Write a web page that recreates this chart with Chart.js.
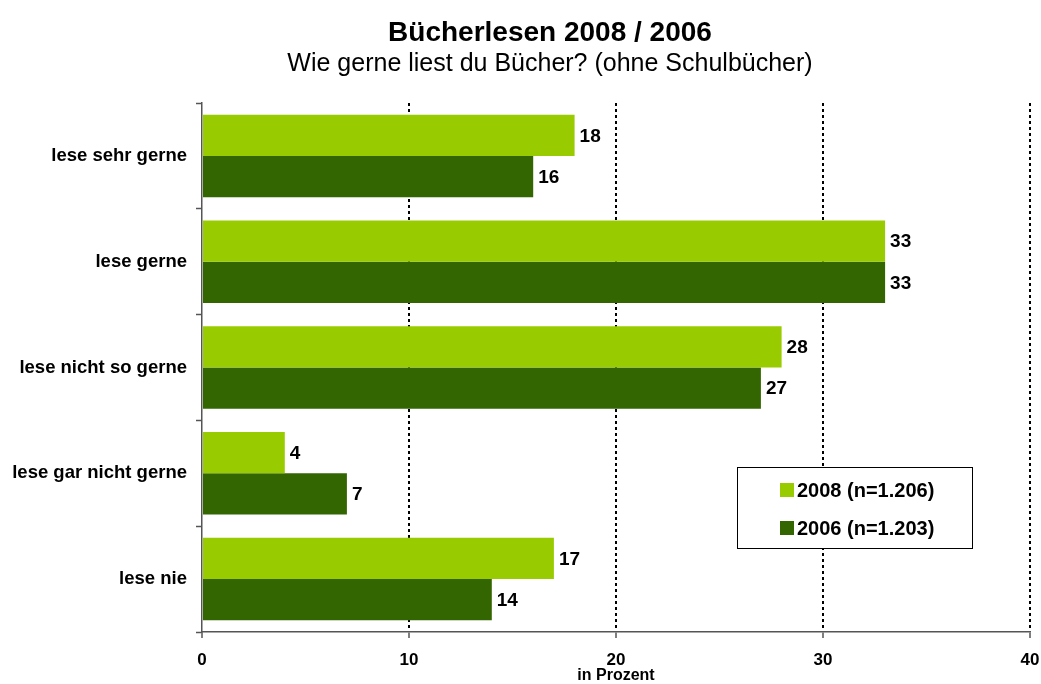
<!DOCTYPE html>
<html>
<head>
<meta charset="utf-8">
<script src="https://cdn.jsdelivr.net/npm/chart.js@4"></script>
<style>
  html, body { margin: 0; padding: 0; background: #fff; }
  canvas { display: block; }
</style>
</head>
<body>
<canvas id="buecherChart" width="1041" height="684"></canvas>
<script>
// Werte aus der Grafik
const categories = ['lese sehr gerne', 'lese gerne', 'lese nicht so gerne', 'lese gar nicht gerne', 'lese nie'];
const values2008 = [18, 33, 28, 4, 17];
const values2006 = [16, 33, 27, 7, 14];
const seriesLabels = ['2008 (n=1.206)', '2006 (n=1.203)'];
const seriesColors = ['#99CC00', '#336600'];
const xTicks = [0, 10, 20, 30, 40];
const titleText = 'Bücherlesen 2008 / 2006';
const subtitleText = 'Wie gerne liest du Bücher? (ohne Schulbücher)';

const FONT = "'Liberation Sans', Arial, sans-serif";

// Titel + Untertitel (nicht über der Zeichenfläche zentriert, daher selbst gezeichnet)
const headerText = {
  id: 'headerText',
  afterDraw(chart) {
    const ctx = chart.ctx;
    ctx.save();
    ctx.fillStyle = '#000';
    ctx.textAlign = 'center';
    ctx.textBaseline = 'middle';
    ctx.font = 'bold 28px ' + FONT;
    ctx.fillText(titleText, 550, 33);
    ctx.font = '25px ' + FONT;
    ctx.fillText(subtitleText, 550, 64);
    ctx.restore();
  }
};

// Zahlen rechts neben den Balken
const barValues = {
  id: 'barValues',
  afterDatasetsDraw(chart) {
    const ctx = chart.ctx;
    ctx.save();
    ctx.font = 'bold 19px ' + FONT;
    ctx.fillStyle = '#000';
    ctx.textAlign = 'left';
    ctx.textBaseline = 'middle';
    chart.data.datasets.forEach((ds, i) => {
      chart.getDatasetMeta(i).data.forEach((bar, j) => {
        ctx.fillText(ds.data[j], bar.x + 5, bar.y + 1);
      });
    });
    ctx.restore();
  }
};

// Legende im Kasten
const boxLegend = {
  id: 'boxLegend',
  afterDraw(chart) {
    const ctx = chart.ctx;
    ctx.save();
    ctx.fillStyle = '#fff';
    ctx.fillRect(737, 467, 236, 82);
    ctx.strokeStyle = '#000';
    ctx.lineWidth = 1;
    ctx.strokeRect(737.5, 467.5, 235, 81);
    ctx.font = 'bold 20px ' + FONT;
    ctx.textAlign = 'left';
    ctx.textBaseline = 'middle';
    chart.data.datasets.forEach((ds, i) => {
      const y = 490 + i * 38;
      ctx.fillStyle = ds.backgroundColor;
      ctx.fillRect(780, y - 7, 14, 14);
      ctx.fillStyle = '#000';
      ctx.fillText(ds.label, 797, y + 1);
    });
    ctx.restore();
  }
};

new Chart(document.getElementById('buecherChart'), {
  type: 'bar',
  data: {
    labels: categories,
    datasets: [
      { label: seriesLabels[0], data: values2008, backgroundColor: seriesColors[0] },
      { label: seriesLabels[1], data: values2006, backgroundColor: seriesColors[1] }
    ]
  },
  options: {
    indexAxis: 'y',
    responsive: false,
    animation: false,
    layout: { padding: { left: 0, right: 11, top: 103, bottom: 0 } },
    datasets: {
      bar: { categoryPercentage: 0.78, barPercentage: 1.0, borderWidth: 0 }
    },
    plugins: {
      legend: { display: false },
      tooltip: { enabled: false },
      title: { display: false }
    },
    scales: {
      x: {
        type: 'linear',
        min: 0,
        max: 40,
        afterBuildTicks(scale) {
          scale.ticks = xTicks.map(v => ({ value: v }));
        },
        afterFit(scale) {
          scale.height = 52;
          scale.paddingLeft = 0;
          scale.paddingRight = 0;
        },
        ticks: {
          color: '#000',
          padding: 14,
          font: { family: FONT, size: 17, weight: 'bold', lineHeight: 1 }
        },
        grid: {
          color: ctx => (ctx.tick && ctx.tick.value === 0 ? 'rgba(0,0,0,0)' : '#000'),
          lineWidth: 2,
          tickLength: 6,
          tickColor: '#555',
          tickWidth: 1.5,
          tickBorderDash: []
        },
        border: { color: '#555', width: 1.5, dash: [3, 3] },
        title: {
          display: true,
          text: 'in Prozent',
          color: '#000',
          font: { family: FONT, size: 16, weight: 'bold', lineHeight: 1 },
          padding: { top: 0, bottom: 0 }
        }
      },
      y: {
        afterFit(scale) {
          scale.width = 202;
        },
        ticks: {
          color: '#000',
          padding: 9,
          font: { family: FONT, size: 18.5, weight: 'bold' }
        },
        grid: {
          drawOnChartArea: false,
          offset: true,
          tickLength: 6,
          tickColor: '#555',
          tickWidth: 1.5
        },
        border: { color: '#555', width: 1.5 }
      }
    }
  },
  plugins: [barValues, boxLegend, headerText]
});
</script>
</body>
</html>
